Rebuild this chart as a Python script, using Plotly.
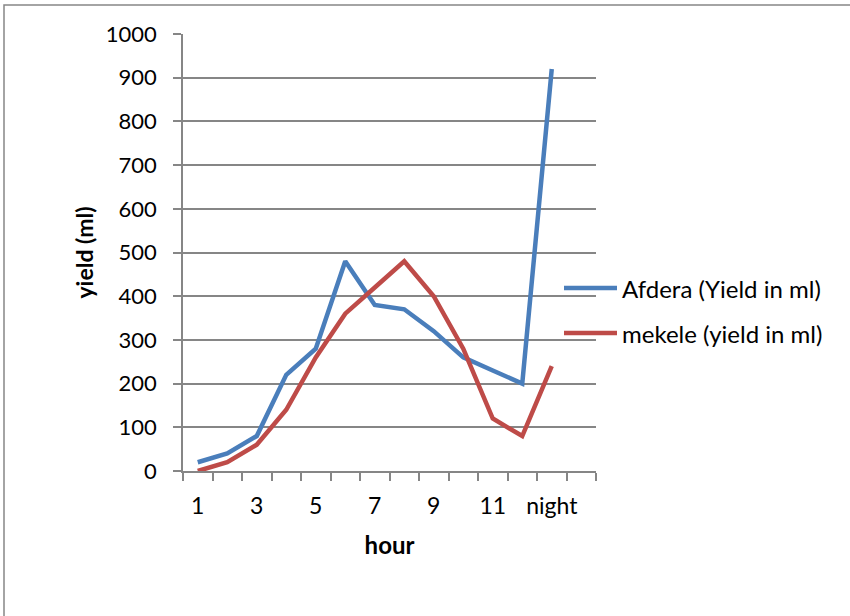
import plotly.graph_objects as go

# Hourly yield readings (ml) at two sites
hours = ["1", "2", "3", "4", "5", "6", "7", "8", "9", "10", "11", "12", "night"]
afdera = [20, 40, 80, 220, 280, 480, 380, 370, 320, 260, 230, 200, 920]
mekele = [0, 20, 60, 140, 260, 360, 420, 480, 400, 280, 120, 80, 240]

afdera_name = "Afdera (Yield in ml)"
mekele_name = "mekele (yield in ml)"

BLUE = "#4A7EBB"
RED = "#BE4B48"
GRID = "#868686"
FONT = "Lato"

W, H = 850, 616
L, R, T, B = 183, 254, 34, 145
pw, ph = W - L - R, H - T - B


def px_x(x):
    return (x - L) / pw


def px_y(y):
    return (H - B - y) / ph


pos = list(range(1, len(hours) + 1))

fig = go.Figure()
fig.add_trace(go.Scatter(x=pos, y=afdera, mode="lines", name=afdera_name,
                         line=dict(color=BLUE, width=4.5)))
fig.add_trace(go.Scatter(x=pos, y=mekele, mode="lines", name=mekele_name,
                         line=dict(color=RED, width=4.5)))

fig.update_xaxes(
    range=[0.5, len(hours) + 1.5],
    tickvals=pos[::2], ticktext=hours[::2],
    ticks="", showgrid=False, zeroline=False,
    showline=True, linecolor=GRID, linewidth=1.5,
    tickfont=dict(family=FONT, size=23, color="#000"),
    ticklabelstandoff=14,
    minor=dict(tickmode="linear", tick0=0.5, dtick=1, ticks="outside",
               ticklen=8, tickcolor=GRID, tickwidth=1.5, showgrid=False),
    title=dict(text="<b>hour</b>", font=dict(family=FONT, size=24, color="#000"),
               standoff=19),
)
fig.update_yaxes(
    range=[0, 1000], dtick=100, tick0=0,
    showgrid=True, gridcolor=GRID, gridwidth=1.5, zeroline=False,
    showline=True, linecolor=GRID, linewidth=1.5,
    ticks="outside", ticklen=8, tickcolor=GRID, tickwidth=1.5,
    tickfont=dict(family=FONT, size=22, color="#000"),
    ticklabelstandoff=12,
    title=dict(text="<b>yield (ml)</b>", font=dict(family=FONT, size=23, color="#000"),
               standoff=6),
)

# Hand-placed legend to the right of the plot
shapes = [
    dict(type="rect", xref="paper", yref="paper",
         x0=px_x(4), x1=px_x(860), y0=px_y(5), y1=px_y(630),
         line=dict(color=GRID, width=1.5), fillcolor="rgba(0,0,0,0)", layer="below"),
]
annotations = []
for name, color, ypix in [(afdera_name, BLUE, 288), (mekele_name, RED, 333)]:
    shapes.append(dict(type="line", xref="paper", yref="paper",
                       x0=px_x(564), x1=px_x(617), y0=px_y(ypix), y1=px_y(ypix),
                       line=dict(color=color, width=4.5)))
    annotations.append(dict(xref="paper", yref="paper", x=px_x(620), y=px_y(ypix),
                            text=name, showarrow=False, xanchor="left", yanchor="middle",
                            font=dict(family=FONT, size=24, color="#000")))

fig.update_layout(
    width=W, height=H,
    margin=dict(l=L, r=R, t=T, b=B),
    paper_bgcolor="white", plot_bgcolor="white",
    showlegend=False,
    shapes=shapes, annotations=annotations,
)

fig.write_html("out.html")
